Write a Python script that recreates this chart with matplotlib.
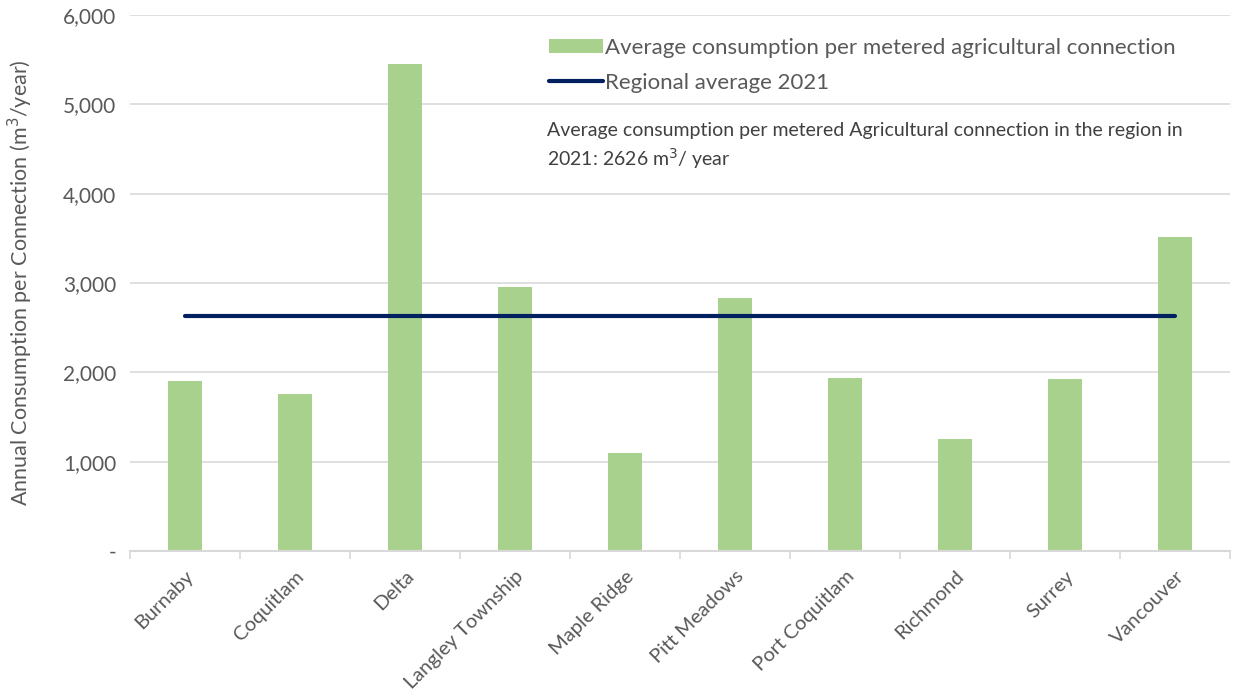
import matplotlib
matplotlib.use("Agg")
import matplotlib.pyplot as plt
from matplotlib.ticker import FuncFormatter, FixedLocator

plt.rcParams['font.family'] = ['Lato', 'DejaVu Sans']

municipalities = ["Burnaby", "Coquitlam", "Delta", "Langley Township", "Maple Ridge",
                  "Pitt Meadows", "Port Coquitlam", "Richmond", "Surrey", "Vancouver"]
avg_consumption = [1900, 1760, 5450, 2960, 1100, 2830, 1940, 1250, 1925, 3510]
regional_avg_2021 = 2626
y_ticks = [0, 1000, 2000, 3000, 4000, 5000, 6000]

BAR_COLOR = "#A9D18E"
LINE_COLOR = "#002060"
TEXT_COLOR = "#595959"
GRID_COLOR = "#D9D9D9"

fig = plt.figure(figsize=(12.35, 6.98), dpi=100)
ax = fig.add_axes([0.1053, 0.2106, 0.8907, 0.768])

x = list(range(len(municipalities)))
bars = ax.bar(x, avg_consumption, width=0.31, color=BAR_COLOR, zorder=2,
              label="Average consumption per metered agricultural connection")
line, = ax.plot([x[0], x[-1]], [regional_avg_2021] * 2, color=LINE_COLOR, lw=3.0,
                solid_capstyle="round", zorder=3, label="Regional average 2021")

ax.set_xlim(-0.5, len(municipalities) - 0.5)
ax.set_ylim(0, 6000)
ax.set_yticks(y_ticks)
ax.yaxis.set_major_formatter(FuncFormatter(lambda v, p: "-" if v == 0 else f"{int(v):,}"))
ax.grid(axis="y", color=GRID_COLOR, lw=1.2, zorder=0)
ax.set_axisbelow(True)

for s in ["top", "right", "left"]:
    ax.spines[s].set_visible(False)
ax.spines["bottom"].set_color(GRID_COLOR)
ax.spines["bottom"].set_linewidth(1.5)

ax.set_xticks(x)
ax.set_xticklabels(municipalities, rotation=45, ha="right", rotation_mode="anchor")
ax.xaxis.set_minor_locator(FixedLocator([i - 0.5 for i in range(len(municipalities) + 1)]))
ax.tick_params(axis="x", which="major", length=0, pad=12, labelsize=14.5, labelcolor=TEXT_COLOR)
ax.tick_params(axis="x", which="minor", length=6, color=GRID_COLOR, width=1.2)
ax.tick_params(axis="y", length=0, pad=10, labelsize=15, labelcolor=TEXT_COLOR)

ax.set_ylabel("Annual Consumption per Connection (m$^3$/year)", fontsize=15.5,
              color=TEXT_COLOR, labelpad=20)

leg = ax.legend(handles=[bars, line], loc="upper left", bbox_to_anchor=(0.4445, 0.946),
                bbox_transform=fig.transFigure, frameon=False, fontsize=16,
                handlelength=2.45, handleheight=0.6, handletextpad=0.05,
                labelspacing=0.68, borderpad=0, borderaxespad=0)
for t in leg.get_texts():
    t.set_color(TEXT_COLOR)

fig.text(0.443, 0.825, "Average consumption per metered Agricultural connection in the region in\n"
         "2021: 2626 m$^3$/ year", fontsize=14, color="#404040", va="top", ha="left",
         linespacing=1.35)

fig.savefig("out.png", dpi=100, facecolor="white")
